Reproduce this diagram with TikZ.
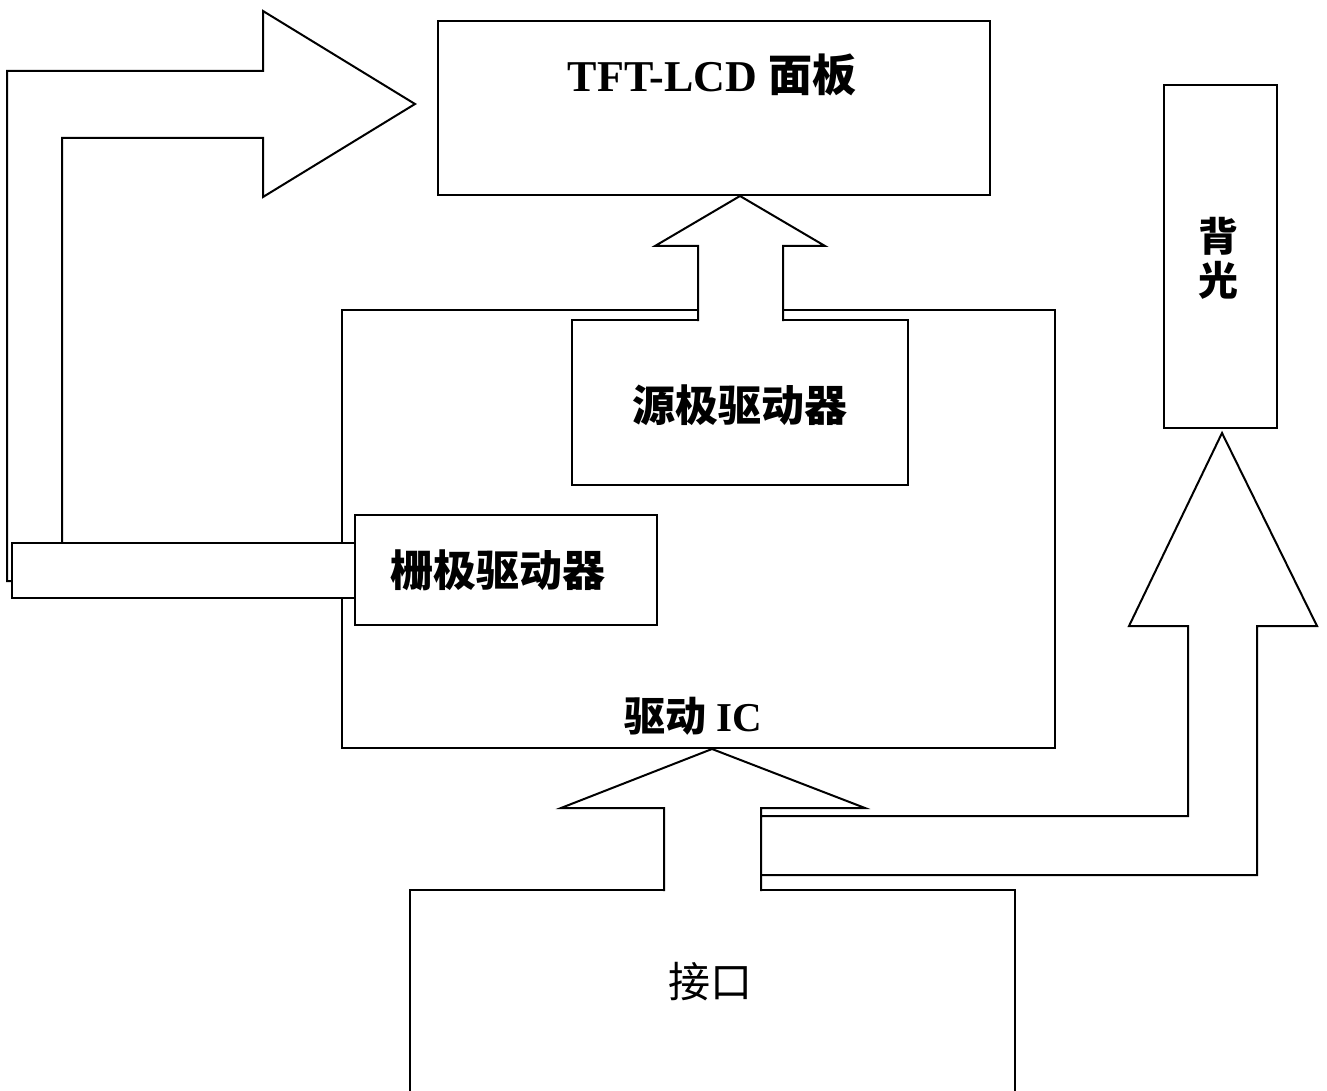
\documentclass[tikz,border=0pt]{standalone}
\usepackage{fontspec}
\setmainfont{Liberation Serif}
\newfontfamily\cjk{Noto Sans CJK SC}
\begin{document}
\begin{tikzpicture}[x=1pt,y=-1pt,line width=2pt,line join=miter,
  box/.style={draw,fill=white,rectangle,inner sep=0pt,line width=2pt},
  cn/.style={font=\cjk\bfseries\fontsize{43}{50}\selectfont,inner sep=0pt},
  blockarrow/.style={draw,line width=2pt}]
\useasboundingbox (0,0) rectangle (1327,1091);
\clip (0,0) rectangle (1327,1091);
\fill[white] (0,0) rectangle (1327,1091);

% driver IC
\node[box,minimum width=713pt,minimum height=438pt] (ic) at (698.5,529) {};

% gate arrow (to panel)
\fill[white] (62,545) -- (62,138) -- (263,138) -- (263,197) -- (415,104) -- (263,11) -- (263,71) -- (7,71) -- (7,581) -- (62,581) -- cycle;
\draw[blockarrow] (62,545) -- (62,138) -- (263,138) -- (263,197) -- (415,104) -- (263,11) -- (263,71) -- (7,71) -- (7,581) -- (14,581);

% gate bar and gate driver
\node[box,minimum width=343pt,minimum height=55pt] (bar) at (183.5,570.5) {};
\node[box,minimum width=302pt,minimum height=110pt] (gate) at (506,570) {};

% source driver
\node[box,minimum width=336pt,minimum height=165pt] (src) at (740,402.5) {};

% panel
\node[box,minimum width=552pt,minimum height=174pt] (panel) at (714,108) {};

% source arrow
\fill[white] (698,321) -- (698,246) -- (655,246) -- (740,196) -- (825,246) -- (783,246) -- (783,321) -- cycle;
\draw[blockarrow] (698,321) -- (698,246) -- (655,246) -- (740,196) -- (825,246) -- (783,246) -- (783,321);

% backlight
\node[box,minimum width=113pt,minimum height=343pt] (bl) at (1220.5,256.5) {};

% interface
\node[box,minimum width=605pt,minimum height=310pt] (intf) at (712.5,1045) {};

% interface arrow
\fill[white] (664,891) -- (664,808) -- (561,808) -- (712,749) -- (865,808) -- (761,808) -- (761,891) -- cycle;
\draw[blockarrow] (664,891) -- (664,808) -- (561,808) -- (712,749) -- (865,808) -- (761,808) -- (761,891);

% backlight arrow
\draw[blockarrow,fill=white] (761,875) -- (1257,875) -- (1257,626) -- (1317,626) -- (1222,433) -- (1129,626) -- (1188,626) -- (1188,816) -- (761,816) -- cycle;

% texts
\node[inner sep=0pt,font=\fontsize{44}{50}\selectfont] (paneltxt) at (712,75) {\textbf{TFT-LCD} {\cjk\bfseries 面板}};
\node[cn] (srctxt) at (740,405) {源极驱动器};
\node[cn] (gatetxt) at (498,570) {栅极驱动器};
\node[cn,font=\cjk\bfseries\fontsize{40}{44}\selectfont,align=center] (bltxt) at (1218,258) {背\\光};
\node[inner sep=0pt,font=\fontsize{41}{48}\selectfont] (ictxt) at (693,716) {{\cjk\bfseries 驱动} \textbf{IC}};
\node[inner sep=0pt,font=\cjk\fontsize{42}{48}\selectfont] (intftxt) at (710,982) {接口};
\end{tikzpicture}
\end{document}
